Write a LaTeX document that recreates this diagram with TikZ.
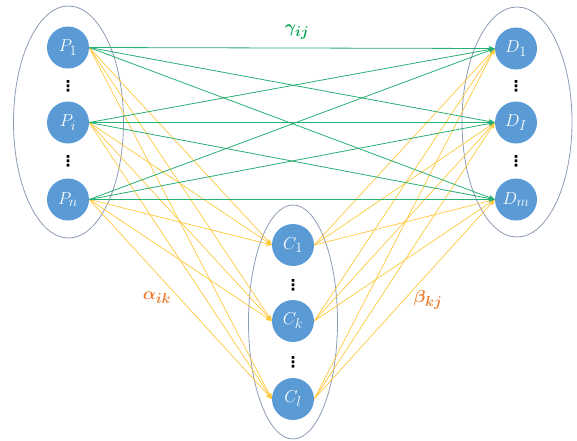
\documentclass[tikz,border=0pt]{standalone}
\usepackage{bm}
\usepackage{fontspec}
\newfontfamily\dvsans{DejaVu Sans}
\usetikzlibrary{shapes.geometric,arrows.meta,backgrounds}
\definecolor{nodeblue}{RGB}{91,155,213}
\definecolor{grpline}{RGB}{140,155,180}
\definecolor{gline}{RGB}{40,175,115}
\definecolor{yline}{RGB}{255,200,60}
\definecolor{lblgreen}{RGB}{0,165,80}
\definecolor{lblorange}{RGB}{237,125,49}
\tikzset{
  ent/.style={circle,fill=nodeblue,draw=none,minimum size=42pt,inner sep=0pt,text=white,font=\fontsize{19}{22}\selectfont},
  grp/.style={ellipse,draw=grpline,line width=0.8pt,inner sep=0pt},
  gl/.style={draw=gline,line width=0.8pt,-{Stealth[length=6pt,width=5pt]}},
  yl/.style={draw=yline,line width=0.7pt,-{Stealth[length=6pt,width=5pt]}},
  dotsy/.style={font=\dvsans\bfseries\fontsize{15}{16}\selectfont,inner sep=0pt},
  lbl/.style={font=\fontsize{19}{22}\selectfont}
}
\begin{document}
\begin{tikzpicture}[x=1pt,y=-1pt]
\useasboundingbox (0,0) rectangle (577,440);
% nodes
\node[ent] (P1) at (68,47.5) {$P_1$};
\node[ent] (Pi) at (68,122.5) {$P_i$};
\node[ent] (Pn) at (68,199.5) {$P_n$};
\node[ent] (D1) at (516,48.5) {$D_1$};
\node[ent] (DI) at (516,122.5) {$D_I$};
\node[ent] (Dm) at (516,199.5) {$D_m$};
\node[ent] (C1) at (293,245) {$C_1$};
\node[ent] (Ck) at (293,321) {$C_k$};
\node[ent] (Cl) at (293,399) {$C_l$};
% dots
\node[dotsy] (v1) at (68,86) {⋮};
\node[dotsy] (v2) at (68,161) {⋮};
\node[dotsy] (v3) at (516,86) {⋮};
\node[dotsy] (v4) at (516,161) {⋮};
\node[dotsy] (v5) at (293,285) {⋮};
\node[dotsy] (v6) at (293,362) {⋮};
% labels
\node[text=lblgreen,lbl] (lg) at (297,32) {$\bm{\gamma_{ij}}$};
\node[text=lblorange,lbl] (la) at (157,298) {$\bm{\alpha_{ik}}$};
\node[text=lblorange,lbl] (lb) at (428,300) {$\bm{\beta_{kj}}$};
\begin{pgfonlayer}{background}
% groups
\node[grp,minimum width=110pt,minimum height=232pt] (gP) at (68.5,122) {};
\node[grp,minimum width=110pt,minimum height=230pt] (gD) at (517,122) {};
\node[grp,minimum width=89pt,minimum height=234pt] (gC) at (293,322) {};
% yellow connectors
\foreach \p in {P1,Pi,Pn}{
  \foreach \c in {C1,Ck,Cl}{
    \draw[yl] (\p.east) -- (\c.west);
  }
}
\foreach \c in {C1,Ck,Cl}{
  \foreach \d in {D1,DI,Dm}{
    \draw[yl] (\c.east) -- (\d.west);
  }
}
% green connectors
\foreach \p in {P1,Pi,Pn}{
  \foreach \d in {D1,DI,Dm}{
    \draw[gl] (\p.east) -- (\d.west);
  }
}
\end{pgfonlayer}
\end{tikzpicture}
\end{document}
